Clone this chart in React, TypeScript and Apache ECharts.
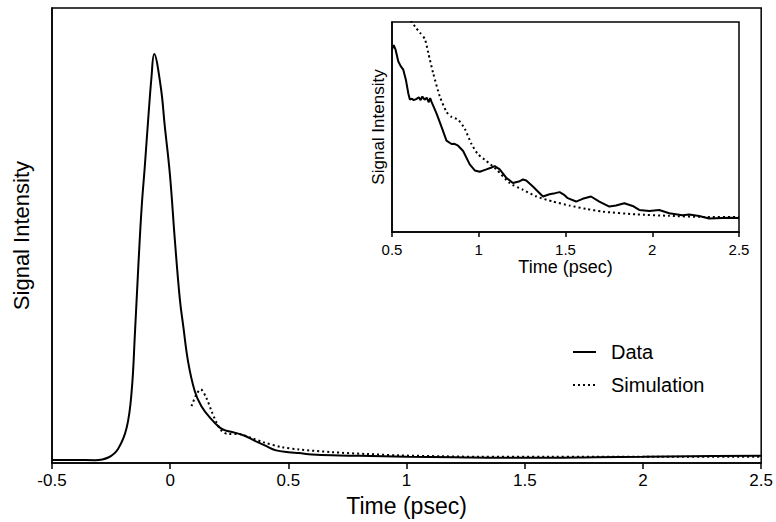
import React, { useEffect, useRef } from "react";
import * as echarts from "echarts";

// ---- Main panel data (time in psec, normalized intensity) ----
const mainDataT = [-0.5, -0.4, -0.318, -0.262, -0.22, -0.184, -0.163, -0.149, -0.135, -0.121, -0.107, -0.093, -0.079, -0.068, -0.04, -0.023, -0.001, 0.02, 0.041, 0.055, 0.076, 0.104, 0.132, 0.168, 0.21, 0.238, 0.273, 0.315, 0.358, 0.4, 0.448, 0.5, 0.545, 0.6, 0.684, 0.8, 0.9, 1.0, 1.2, 1.4, 1.6, 1.8, 2.0, 2.2, 2.5];
const mainDataV = [0.007, 0.007, 0.0065, 0.0123, 0.0317, 0.078, 0.158, 0.287, 0.431, 0.56, 0.655, 0.756, 0.849, 0.899, 0.827, 0.741, 0.633, 0.488, 0.359, 0.302, 0.222, 0.158, 0.125, 0.1, 0.078, 0.071, 0.067, 0.06, 0.049, 0.039, 0.028, 0.024, 0.022, 0.019, 0.017, 0.016, 0.015, 0.014, 0.013, 0.012, 0.012, 0.013, 0.014, 0.015, 0.016];

const mainSimT = [0.09, 0.111, 0.129, 0.153, 0.175, 0.196, 0.217, 0.245, 0.287, 0.344, 0.393, 0.473, 0.545, 0.684, 0.83, 0.966, 1.15, 1.3, 1.6, 2.0, 2.5];
const mainSimV = [0.125, 0.151, 0.162, 0.143, 0.114, 0.089, 0.071, 0.064, 0.064, 0.055, 0.046, 0.035, 0.03, 0.024, 0.02, 0.017, 0.015, 0.014, 0.014, 0.014, 0.014];

// ---- Inset panel data ----
const insetDataT = [0.5, 0.51, 0.52, 0.536, 0.55, 0.565, 0.58, 0.594, 0.603, 0.615, 0.625, 0.642, 0.655, 0.665, 0.675, 0.688, 0.7, 0.712, 0.72, 0.728, 0.757, 0.786, 0.814, 0.843, 0.86, 0.881, 0.91, 0.948, 0.977, 1.006, 1.044, 1.07, 1.092, 1.121, 1.159, 1.197, 1.236, 1.255, 1.274, 1.312, 1.37, 1.408, 1.44, 1.466, 1.49, 1.513, 1.561, 1.599, 1.647, 1.695, 1.753, 1.791, 1.839, 1.887, 1.925, 1.983, 2.04, 2.098, 2.174, 2.213, 2.27, 2.328, 2.404, 2.45, 2.5];
const insetDataV = [0.87, 0.89, 0.87, 0.813, 0.79, 0.773, 0.725, 0.66, 0.631, 0.635, 0.628, 0.634, 0.642, 0.628, 0.645, 0.63, 0.64, 0.618, 0.638, 0.62, 0.564, 0.499, 0.435, 0.419, 0.42, 0.411, 0.386, 0.322, 0.293, 0.287, 0.298, 0.306, 0.314, 0.298, 0.258, 0.233, 0.242, 0.25, 0.245, 0.217, 0.169, 0.18, 0.185, 0.19, 0.178, 0.161, 0.145, 0.158, 0.169, 0.145, 0.121, 0.126, 0.137, 0.124, 0.105, 0.1, 0.105, 0.089, 0.08, 0.083, 0.076, 0.064, 0.067, 0.068, 0.067];

const insetSimT = [0.5, 0.56, 0.6, 0.64, 0.661, 0.69, 0.709, 0.737, 0.776, 0.814, 0.843, 0.881, 0.92, 0.958, 0.996, 1.044, 1.102, 1.178, 1.255, 1.332, 1.427, 1.523, 1.619, 1.714, 1.906, 2.098, 2.289, 2.5];
const insetSimV = [1.4, 1.15, 1.02, 0.97, 0.95, 0.918, 0.853, 0.757, 0.644, 0.572, 0.548, 0.535, 0.491, 0.419, 0.37, 0.338, 0.298, 0.233, 0.201, 0.169, 0.145, 0.126, 0.11, 0.097, 0.084, 0.077, 0.072, 0.072];

// ---- Axis ticks ----
const mainTicks = [-0.5, 0, 0.5, 1, 1.5, 2, 2.5];
const mainTickLabels = ["-0.5", "0", "0.5", "1", "1.5", "2", "2.5"];
const insetTicks = [0.5, 1, 1.5, 2, 2.5];
const insetTickLabels = ["0.5", "1", "1.5", "2", "2.5"];

const FONT = "'Liberation Sans', Arial, Helvetica, sans-serif";

const zip = (t: number[], v: number[]) => t.map((x, i) => [x, v[i]]);
const fmt = (ticks: number[], labels: string[]) => (val: number) => {
  const i = ticks.findIndex((t) => Math.abs(t - val) < 1e-6);
  return i >= 0 ? labels[i] : "";
};

export default function App() {
  const ref = useRef<HTMLDivElement>(null);
  useEffect(() => {
    if (!ref.current) return;
    const chart = echarts.init(ref.current, undefined, { renderer: "svg" });
    const axisLine = { show: true, onZero: false, lineStyle: { color: "#000", width: 1.5 } };
    chart.setOption({
      animation: false,
      backgroundColor: "#fff",
      textStyle: { fontFamily: FONT, color: "#000" },
      grid: [
        { left: 52, top: 8, right: 14, bottom: 49, show: true, borderColor: "#000", borderWidth: 1.5, backgroundColor: "transparent" },
        { left: 392, top: 22, right: 37, bottom: 290, show: true, borderColor: "#000", borderWidth: 1.5, backgroundColor: "#fff" },
      ],
      xAxis: [
        {
          type: "value", gridIndex: 0, min: -0.5, max: 2.5, interval: 0.5,
          axisLine, splitLine: { show: false },
          axisTick: { show: true, inside: false, length: 6, lineStyle: { color: "#000", width: 1.5 } },
          axisLabel: { fontSize: 17, color: "#000", fontFamily: FONT, margin: 9, formatter: fmt(mainTicks, mainTickLabels) },
          name: "Time (psec)", nameLocation: "middle", nameGap: 22,
          nameTextStyle: { fontSize: 23, color: "#000", fontFamily: FONT },
        },
        {
          type: "value", gridIndex: 1, min: 0.5, max: 2.5, interval: 0.5,
          axisLine, splitLine: { show: false },
          axisTick: { show: true, inside: false, length: 5, lineStyle: { color: "#000", width: 1.5 } },
          axisLabel: { fontSize: 15, color: "#000", fontFamily: FONT, margin: 10, formatter: fmt(insetTicks, insetTickLabels) },
          name: "Time (psec)", nameLocation: "middle", nameGap: 21,
          nameTextStyle: { fontSize: 18, color: "#000", fontFamily: FONT },
        },
      ],
      yAxis: [
        {
          type: "value", gridIndex: 0, min: 0, max: 1,
          axisLine, splitLine: { show: false }, axisTick: { show: false }, axisLabel: { show: false },
          name: "Signal Intensity", nameLocation: "middle", nameGap: 20,
          nameTextStyle: { fontSize: 22, color: "#000", fontFamily: FONT },
        },
        {
          type: "value", gridIndex: 1, min: 0, max: 1,
          axisLine, splitLine: { show: false }, axisTick: { show: false }, axisLabel: { show: false },
          name: "Signal Intensity", nameLocation: "middle", nameGap: 5,
          nameTextStyle: { fontSize: 17, color: "#000", fontFamily: FONT },
        },
      ],
      legend: {
        orient: "vertical", left: 572, top: 342, padding: 0, itemWidth: 23, itemHeight: 14, itemGap: 13,
        data: ["Data", "Simulation"],
        itemStyle: { opacity: 0 },
        textStyle: { fontSize: 20, color: "#000", fontFamily: FONT, padding: [0, 0, 0, 10] },
      },
      series: [
        {
          name: "Data", type: "line", xAxisIndex: 0, yAxisIndex: 0, symbol: "none", smooth: 0.4,
          lineStyle: { color: "#000", width: 2 }, itemStyle: { color: "#000" },
          data: zip(mainDataT, mainDataV),
        },
        {
          name: "Simulation", type: "line", xAxisIndex: 0, yAxisIndex: 0, symbol: "none", smooth: 0.3,
          lineStyle: { color: "#000", width: 2, type: [2, 3] }, itemStyle: { color: "#000" },
          data: zip(mainSimT, mainSimV),
        },
        {
          name: "Data", type: "line", xAxisIndex: 1, yAxisIndex: 1, symbol: "none", clip: true,
          lineStyle: { color: "#000", width: 2 }, itemStyle: { color: "#000" },
          data: zip(insetDataT, insetDataV),
        },
        {
          name: "Simulation", type: "line", xAxisIndex: 1, yAxisIndex: 1, symbol: "none", clip: true, smooth: 0.2,
          lineStyle: { color: "#000", width: 2, type: [2, 3] }, itemStyle: { color: "#000" },
          data: zip(insetSimT, insetSimV),
        },
      ],
    });
    return () => chart.dispose();
  }, []);
  return <div ref={ref} style={{ width: 776, height: 522, position: "absolute", left: 0, top: 0 }} />;
}
